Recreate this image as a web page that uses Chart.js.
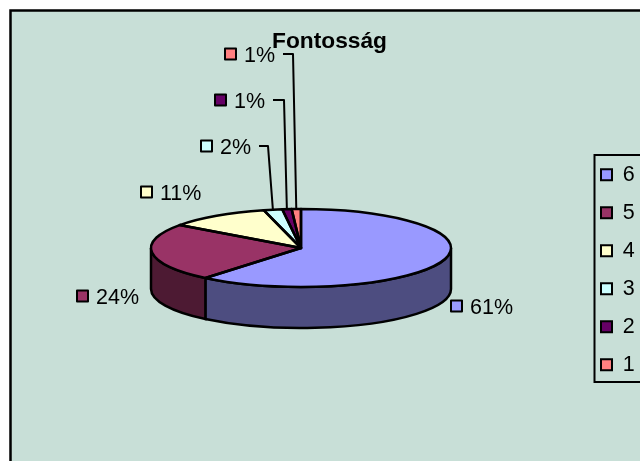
<!DOCTYPE html>
<html>
<head>
<meta charset="utf-8">
<style>
  body { margin: 0; background: #fff; }
  #wrap { width: 640px; height: 461px; }
</style>
<script src="https://cdn.jsdelivr.net/npm/chart.js@4"></script>
</head>
<body>
<div id="wrap"><canvas id="pie-chart" width="640" height="461"></canvas></div>
<script>
const categories = ["6", "5", "4", "3", "2", "1"];
const shares = [61, 24, 11, 2, 1, 1];
const topColors = ["#9999FF", "#993366", "#FFFFCC", "#CCFFFF", "#660066", "#FF8080"];
const sideColors = ["#4D4D80", "#4D1A33", "#808066", "#668080", "#330033", "#804040"];

// pixel layout of the fake 3d pie and its callouts
const BG = "#C8DFD7";
const CX = 301, CY = 248, RX = 150, SQUASH = 0.26, DEPTH = 41;
const labelBoxes = [[450, 306], [76, 296], [140, 192], [200, 146], [214, 100], [224, 54]];
const leaderElbows = [null, null, null, [259, 268, 146], [273, 284, 100], [283, 293, 54]];

const pie3d = {
  id: "pie3d",
  afterLayout(chart) {
    chart.legend.left = 584.5;
    chart.legend.top = 147.5;
    chart.titleBlock.left = 272;
    chart.titleBlock.right = 387;
    chart.titleBlock.top = 28.5;
    chart.titleBlock.bottom = 55;
  },
  beforeDraw(chart) {
    const ctx = chart.ctx;
    ctx.save();
    ctx.fillStyle = "#fff";
    ctx.fillRect(0, 0, 640, 461);
    ctx.fillStyle = BG;
    ctx.fillRect(10, 10, 640, 461);
    ctx.strokeStyle = "#000";
    ctx.lineWidth = 2.5;
    ctx.beginPath();
    ctx.moveTo(10.5, 470);
    ctx.lineTo(10.5, 10.5);
    ctx.lineTo(650, 10.5);
    ctx.stroke();
    // legend frame
    ctx.lineWidth = 2;
    ctx.strokeRect(594.5, 155, 60, 227);
    ctx.restore();
  },
  beforeDatasetsDraw(chart) {
    const ctx = chart.ctx;
    const arcs = chart.getDatasetMeta(0).data;
    const ry = RX * SQUASH;
    ctx.save();
    ctx.strokeStyle = "#000";
    ctx.lineWidth = 2.5;
    arcs.forEach((arc, i) => {
      // only the front half of the rim is visible
      const a0 = Math.max(arc.startAngle, 0);
      const a1 = Math.min(arc.endAngle, Math.PI);
      if (a1 <= a0) return;
      ctx.beginPath();
      ctx.ellipse(CX, CY, RX, ry, 0, a0, a1);
      ctx.ellipse(CX, CY + DEPTH, RX, ry, 0, a1, a0, true);
      ctx.closePath();
      ctx.fillStyle = sideColors[i];
      ctx.fill();
      ctx.stroke();
    });
    ctx.restore();
    // squash the flat pie for the library's own arcs
    ctx.save();
    ctx.translate(CX, CY);
    ctx.scale(1, SQUASH);
    ctx.translate(-arcs[0].x, -arcs[0].y);
  },
  afterDatasetsDraw(chart) {
    const ctx = chart.ctx;
    ctx.restore();
    const arcs = chart.getDatasetMeta(0).data;
    const ry = RX * SQUASH;
    ctx.save();
    ctx.strokeStyle = "#000";
    ctx.lineWidth = 2.5;
    ctx.lineJoin = "round";
    arcs.forEach((arc) => {
      ctx.beginPath();
      ctx.moveTo(CX, CY);
      ctx.ellipse(CX, CY, RX, ry, 0, arc.startAngle, arc.endAngle);
      ctx.closePath();
      ctx.stroke();
    });

    ctx.font = "21.5px 'Liberation Sans'";
    ctx.textBaseline = "middle";
    arcs.forEach((arc, i) => {
      const [bx, by] = labelBoxes[i];
      const elbow = leaderElbows[i];
      if (elbow) {
        const mid = (arc.startAngle + arc.endAngle) / 2;
        ctx.lineWidth = 2;
        ctx.beginPath();
        ctx.moveTo(elbow[0], elbow[2]);
        ctx.lineTo(elbow[1], elbow[2]);
        ctx.lineTo(CX + RX * Math.cos(mid), CY + ry * Math.sin(mid));
        ctx.stroke();
      }
      ctx.lineWidth = 2;
      ctx.fillStyle = topColors[i];
      ctx.fillRect(bx + 1, by - 5.5, 11, 11);
      ctx.strokeRect(bx + 1, by - 5.5, 11, 11);
      ctx.fillStyle = "#000";
      ctx.fillText(shares[i] + "%", bx + 20, by + 2);
    });
    ctx.restore();
  },
};

new Chart(document.getElementById("pie-chart"), {
  type: "pie",
  data: {
    labels: categories,
    datasets: [{
      data: shares,
      backgroundColor: topColors,
      borderWidth: 0,
      clip: false,
    }],
  },
  options: {
    responsive: false,
    animation: false,
    radius: RX,
    plugins: {
      tooltip: { enabled: false },
      title: {
        display: true,
        text: "Fontosság",
        color: "#000",
        padding: 0,
        font: { family: "'Liberation Sans'", size: 22.8, weight: "bold" },
      },
      legend: {
        position: "right",
        align: "start",
        labels: {
          boxWidth: 11,
          boxHeight: 11,
          padding: 16.5,
          color: "#000",
          font: { family: "'Liberation Sans'", size: 21.5 },
          generateLabels(chart) {
            const items = Chart.overrides.doughnut.plugins.legend.labels.generateLabels(chart);
            return items.map((item) => ({ ...item, lineWidth: 2, strokeStyle: "#000" }));
          },
        },
      },
    },
  },
  plugins: [pie3d],
});
</script>
</body>
</html>
